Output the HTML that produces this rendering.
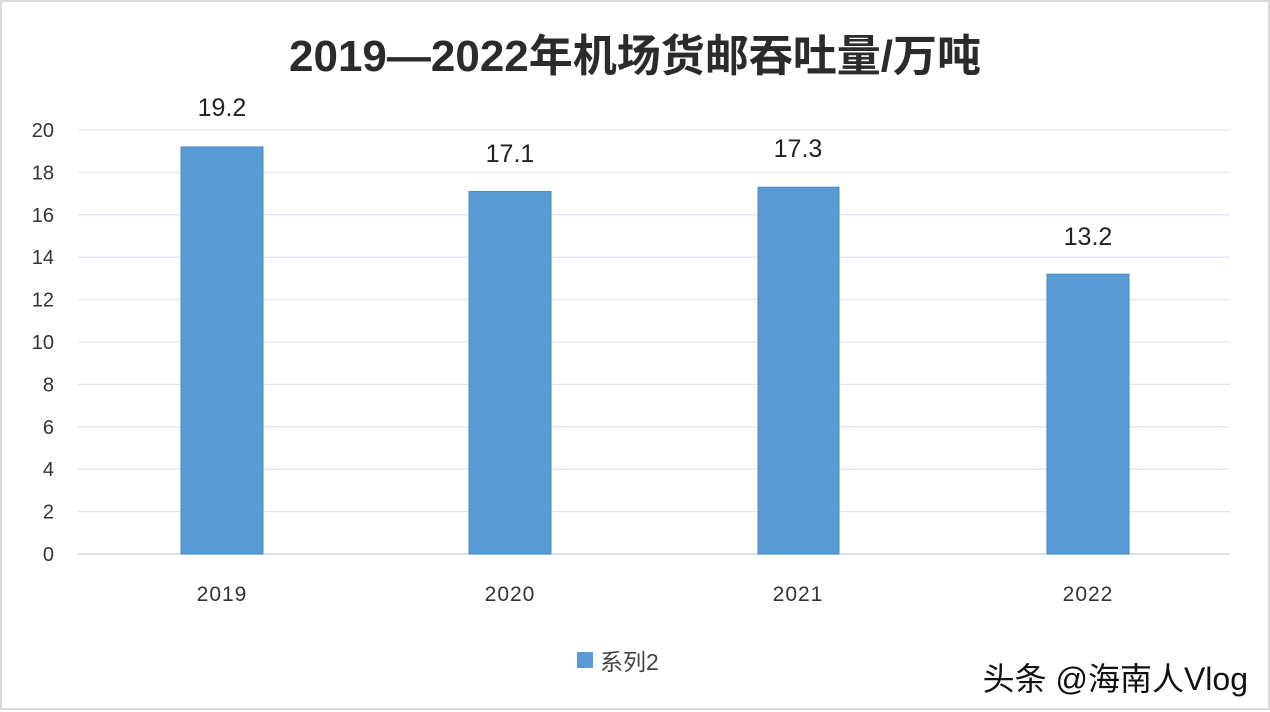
<!DOCTYPE html>
<html><head><meta charset="utf-8"><style>
html,body{margin:0;padding:0;background:#fff;}
svg{display:block;}
</style></head><body>
<svg width="1270" height="712" xmlns="http://www.w3.org/2000/svg" font-family="Liberation Sans, Noto Sans CJK SC, sans-serif">
<rect x="0" y="0" width="1270" height="712" fill="#fff"/>
<rect x="1" y="1" width="1268" height="708" fill="none" stroke="#d9d9d9" stroke-width="2"/>
<text x="635" y="71" text-anchor="middle" font-size="44" font-weight="bold" fill="#2b2b2b">2019—2022年机场货邮吞吐量/万吨</text>
<g stroke="#dfe6ee" stroke-width="1.3">
<line x1="78" x2="1230" y1="130" y2="130"/>
<line x1="78" x2="1230" y1="172.4" y2="172.4"/>
<line x1="78" x2="1230" y1="214.8" y2="214.8"/>
<line x1="78" x2="1230" y1="257.2" y2="257.2"/>
<line x1="78" x2="1230" y1="299.6" y2="299.6"/>
<line x1="78" x2="1230" y1="342" y2="342"/>
<line x1="78" x2="1230" y1="384.4" y2="384.4"/>
<line x1="78" x2="1230" y1="426.8" y2="426.8"/>
<line x1="78" x2="1230" y1="469.2" y2="469.2"/>
<line x1="78" x2="1230" y1="511.6" y2="511.6"/>
</g>
<line x1="78" x2="1230" y1="554" y2="554" stroke="#d0d8e0" stroke-width="1.5"/>
<g font-size="20" fill="#333" text-anchor="end">
<text x="54" y="137">20</text><text x="54" y="179.4">18</text><text x="54" y="221.8">16</text>
<text x="54" y="264.2">14</text><text x="54" y="306.6">12</text><text x="54" y="349">10</text>
<text x="54" y="391.4">8</text><text x="54" y="433.8">6</text><text x="54" y="476.2">4</text>
<text x="54" y="518.6">2</text><text x="54" y="561">0</text>
</g>
<g fill="#5b9bd5" stroke="#4a88c4" stroke-width="1">
<rect x="181" y="146.96" width="82" height="407.04"/>
<rect x="469" y="191.48" width="82" height="362.52"/>
<rect x="758" y="187.24" width="81" height="366.76"/>
<rect x="1047" y="274.16" width="82" height="279.84"/>
</g>
<g font-size="25" fill="#222" text-anchor="middle">
<text x="222" y="116">19.2</text>
<text x="510" y="162">17.1</text>
<text x="798" y="157">17.3</text>
<text x="1088" y="245">13.2</text>
</g>
<g font-size="21" fill="#333" text-anchor="middle" letter-spacing="1">
<text x="222" y="601">2019</text>
<text x="510" y="601">2020</text>
<text x="798" y="601">2021</text>
<text x="1088" y="601">2022</text>
</g>
<rect x="577" y="652" width="16" height="16" fill="#5b9bd5"/>
<text x="600" y="670" font-size="23" fill="#444">系列2</text>
<text x="1248" y="690" text-anchor="end" font-size="32" fill="#111">头条 @海南人Vlog</text>
</svg>
</body></html>
